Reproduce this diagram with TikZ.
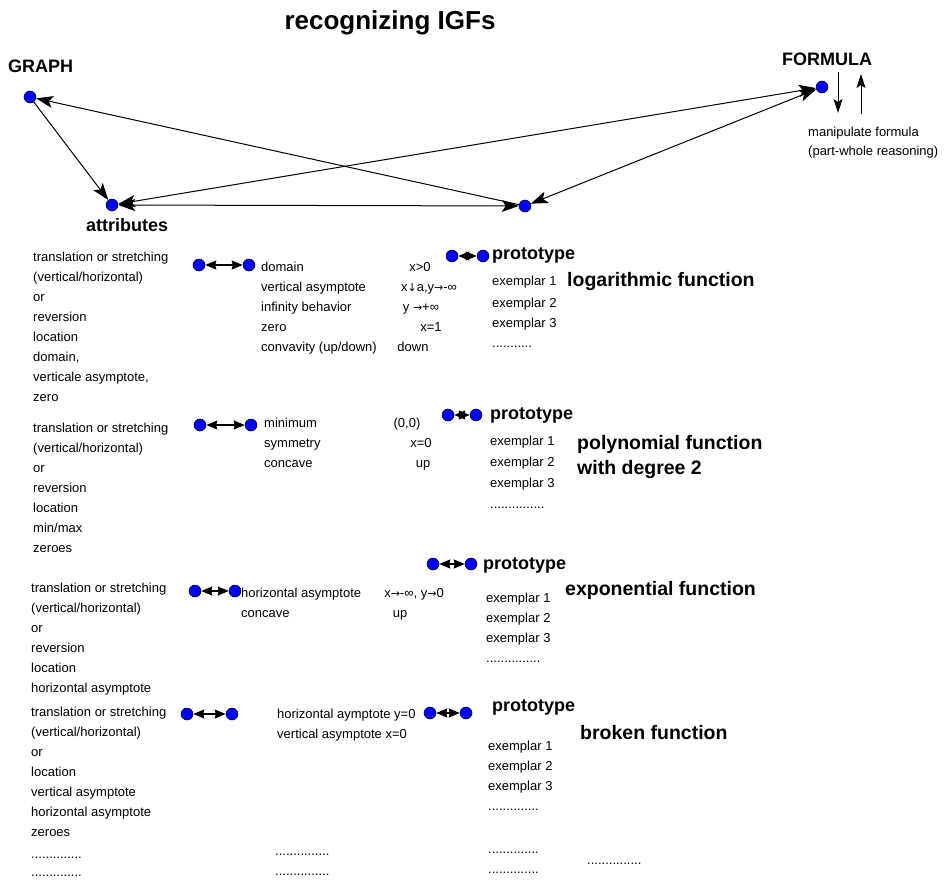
\documentclass[tikz,border=0pt]{standalone}
\usepackage{fontspec}
\setmainfont{Liberation Sans}
\newfontfamily\symfont{DejaVu Sans}
\newcommand{\ar}[1]{{\symfont\fontsize{11}{13}\selectfont #1}}
\usetikzlibrary{arrows.meta}
\begin{document}
\begin{tikzpicture}[x=1pt,y=-1pt,
  dot/.style={circle, fill=blue, draw=black, line width=0.5pt, minimum size=12pt, inner sep=0pt},
  txt/.style={anchor=base west, inner sep=0pt, font=\fontsize{13}{15}\selectfont},
  val/.style={anchor=base, inner sep=0pt, font=\fontsize{13}{15}\selectfont},
  ttl/.style={anchor=base west, inner sep=0pt, font=\bfseries\fontsize{18}{20}\selectfont},
  fnt/.style={anchor=base west, inner sep=0pt, font=\bfseries\fontsize{19.5}{21}\selectfont},
  big/.style={line width=1pt, -{Stealth[length=17pt,width=12pt,inset=4pt]}},
  bigboth/.style={line width=1pt, {Stealth[length=17pt,width=12pt,inset=4pt]}-{Stealth[length=17pt,width=12pt,inset=4pt]}},
  pair/.style={line width=1.2pt, {Stealth[length=11pt,width=9pt,inset=1pt]}-{Stealth[length=11pt,width=9pt,inset=1pt]}},
  vert/.style={line width=1pt, -{Stealth[length=14pt,width=9pt,inset=3pt]}}]
\useasboundingbox[fill=white] (0,0) rectangle (945,880);

% title and top graph
\node[anchor=base, inner sep=0pt, font=\bfseries\fontsize{26}{28}\selectfont] (title) at (390,30) {recognizing IGFs};
\node[ttl] (graphlbl) at (8,73) {GRAPH};
\node[ttl] (formlbl) at (782,66) {FORMULA};
\node[ttl] (attrlbl) at (86,231) {attributes};

\node[dot] (G) at (30,97) {};
\node[dot] (A) at (112,205) {};
\node[dot] (M) at (525,206) {};
\node[dot] (F) at (822,87) {};

\draw[big] (G) -- (A);
\draw[big] (M) -- (G);
\draw[bigboth] (A) -- (M);
\draw[bigboth] (A) -- (F);
\draw[bigboth] (M) -- (F);

\coordinate (d1) at (838,72);
\coordinate (d2) at (838,113);
\coordinate (u1) at (861,114);
\coordinate (u2) at (861,74);
\draw[vert] (d1) -- (d2);
\draw[vert] (u1) -- (u2);
\node[txt] (manip1) at (808,136) {manipulate formula};
\node[txt] (manip2) at (808,156) {(part-whole reasoning)};

% ---------- section 1: logarithmic
\node[txt] (l1a) at (33,261) {translation or stretching};
\node[txt] (l1b) at (33,281) {(vertical/horizontal)};
\node[txt] (l1c) at (33,301) {or};
\node[txt] (l1d) at (33,321) {reversion};
\node[txt] (l1e) at (33,341) {location};
\node[txt] (l1f) at (33,361) {domain,};
\node[txt] (l1g) at (33,381) {verticale asymptote,};
\node[txt] (l1h) at (33,401) {zero};

\node[dot] (c1a) at (199,265) {};
\node[dot] (c1b) at (249,265) {};
\draw[pair] (c1a) -- (c1b);

\node[txt] (a1a) at (261,271) {domain};
\node[txt] (a1b) at (261,291) {vertical asymptote};
\node[txt] (a1c) at (261,311) {infinity behavior};
\node[txt] (a1d) at (261,331) {zero};
\node[txt] (a1e) at (261,351) {convavity (up/down)};

\node[val] (v1a) at (420,271) {x>0};
\node[val] (v1b) at (429,291) {x\ar{↓}a,y\ar{→}-∞};
\node[val] (v1c) at (421,311) {y \ar{→}+∞};
\node[val] (v1d) at (431,331) {x=1};
\node[val] (v1e) at (413,351) {down};

\node[dot] (p1a) at (452,256) {};
\node[dot] (p1b) at (483,256) {};
\draw[pair] (p1a) -- (p1b);
\node[ttl] (pr1) at (492,259) {prototype};
\node[txt] (e1a) at (492,285) {exemplar 1};
\node[txt] (e1b) at (492,307) {exemplar 2};
\node[txt] (e1c) at (492,327) {exemplar 3};
\node[txt] (e1d) at (492,347) {...........};
\node[fnt] (fn1) at (567,286) {logarithmic function};

% ---------- section 2: polynomial
\node[txt] (l2a) at (33,432) {translation or stretching};
\node[txt] (l2b) at (33,452) {(vertical/horizontal)};
\node[txt] (l2c) at (33,472) {or};
\node[txt] (l2d) at (33,492) {reversion};
\node[txt] (l2e) at (33,512) {location};
\node[txt] (l2f) at (33,532) {min/max};
\node[txt] (l2g) at (33,552) {zeroes};

\node[dot] (c2a) at (200,425) {};
\node[dot] (c2b) at (251,425) {};
\draw[pair] (c2a) -- (c2b);

\node[txt] (a2a) at (264,427) {minimum};
\node[txt] (a2b) at (264,447) {symmetry};
\node[txt] (a2c) at (264,467) {concave};

\node[val] (v2a) at (407,427) {(0,0)};
\node[val] (v2b) at (421,447) {x=0};
\node[val] (v2c) at (423,467) {up};

\node[dot] (p2a) at (448,415) {};
\node[dot] (p2b) at (476,415) {};
\draw[pair] (p2a) -- (p2b);
\node[ttl] (pr2) at (490,419) {prototype};
\node[txt] (e2a) at (490,445) {exemplar 1};
\node[txt] (e2b) at (490,466) {exemplar 2};
\node[txt] (e2c) at (490,487) {exemplar 3};
\node[txt] (e2d) at (490,508) {...............};
\node[fnt] (fn2a) at (577,449) {polynomial function};
\node[fnt] (fn2b) at (577,474) {with degree 2};

% ---------- section 3: exponential
\node[dot] (p3a) at (433,564) {};
\node[dot] (p3b) at (471,564) {};
\draw[pair] (p3a) -- (p3b);
\node[ttl] (pr3) at (483,569) {prototype};

\node[txt] (l3a) at (31,592) {translation or stretching};
\node[txt] (l3b) at (31,612) {(vertical/horizontal)};
\node[txt] (l3c) at (31,632) {or};
\node[txt] (l3d) at (31,652) {reversion};
\node[txt] (l3e) at (31,672) {location};
\node[txt] (l3f) at (31,692) {horizontal asymptote};

\node[dot] (c3a) at (195,591) {};
\node[dot] (c3b) at (235,591) {};
\draw[pair] (c3a) -- (c3b);

\node[txt] (a3a) at (241,597) {horizontal asymptote};
\node[txt] (a3b) at (241,617) {concave};
\node[val] (v3a) at (414,597) {x\ar{→}-∞, y\ar{→}0};
\node[val] (v3b) at (400,617) {up};

\node[txt] (e3a) at (486,602) {exemplar 1};
\node[txt] (e3b) at (486,622) {exemplar 2};
\node[txt] (e3c) at (486,642) {exemplar 3};
\node[txt] (e3d) at (486,662) {...............};
\node[fnt] (fn3) at (565,595) {exponential function};

% ---------- section 4: broken
\node[txt] (l4a) at (31,716) {translation or stretching};
\node[txt] (l4b) at (31,736) {(vertical/horizontal)};
\node[txt] (l4c) at (31,756) {or};
\node[txt] (l4d) at (31,776) {location};
\node[txt] (l4e) at (31,796) {vertical asymptote};
\node[txt] (l4f) at (31,816) {horizontal asymptote};
\node[txt] (l4g) at (31,836) {zeroes};
\node[txt] (l4h) at (31,858) {..............};
\node[txt] (l4i) at (31,876) {..............};

\node[dot] (c4a) at (187,714) {};
\node[dot] (c4b) at (232,714) {};
\draw[pair] (c4a) -- (c4b);

\node[txt] (a4a) at (277,718) {horizontal aymptote y=0};
\node[txt] (a4b) at (277,738) {vertical asymptote x=0};

\node[dot] (p4a) at (430,713) {};
\node[dot] (p4b) at (466,713) {};
\draw[pair] (p4a) -- (p4b);
\node[ttl] (pr4) at (492,711) {prototype};
\node[txt] (e4a) at (488,750) {exemplar 1};
\node[txt] (e4b) at (488,770) {exemplar 2};
\node[txt] (e4c) at (488,790) {exemplar 3};
\node[txt] (e4d) at (488,810) {..............};
\node[txt] (e4e) at (488,853) {..............};
\node[txt] (e4f) at (488,873) {..............};
\node[fnt] (fn4) at (580,739) {broken function};

\node[txt] (m4a) at (275,855) {...............};
\node[txt] (m4b) at (275,875) {...............};
\node[txt] (r4a) at (587,864) {...............};
\end{tikzpicture}
\end{document}
